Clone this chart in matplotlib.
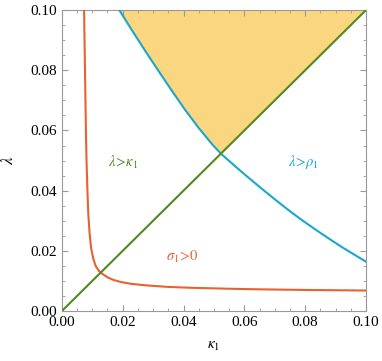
import matplotlib.pyplot as plt
from matplotlib.ticker import MultipleLocator

plt.rcParams['font.family'] = ['Liberation Serif', 'DejaVu Serif']
plt.rcParams['mathtext.fontset'] = 'stix'

# lambda > rho_1 boundary
rho_x = [0.0187, 0.0231, 0.0275, 0.0319, 0.0363, 0.0407, 0.0451, 0.0495, 0.0523,
         0.0571, 0.0615, 0.0659, 0.0703, 0.0747, 0.0791, 0.0835, 0.0879, 0.0923, 0.0967, 0.1000]
rho_y = [0.1003, 0.0932, 0.0863, 0.0796, 0.0730, 0.0666, 0.0607, 0.0553, 0.0523,
         0.0480, 0.0442, 0.0405, 0.0369, 0.0334, 0.0301, 0.0270, 0.0240, 0.0211, 0.0184, 0.0164]

# sigma_1 > 0 boundary
sig_x = [0.0073, 0.0076, 0.0079, 0.0081, 0.0084, 0.0087, 0.0091, 0.0096, 0.0103, 0.0111,
         0.0122, 0.0135, 0.0150, 0.0170, 0.0195, 0.0230, 0.0280, 0.0350, 0.0430, 0.0550,
         0.0650, 0.0800, 0.1000]
sig_y = [0.1000, 0.0800, 0.0600, 0.0500, 0.0400, 0.0320, 0.0260, 0.0210, 0.0175, 0.0150,
         0.0133, 0.0122, 0.0112, 0.0103, 0.0096, 0.0090, 0.0085, 0.0080, 0.0077, 0.0074,
         0.0072, 0.0070, 0.0068]

# lambda > kappa_1 boundary
kap_x = [0.0, 0.1]
kap_y = [0.0, 0.1]

# shaded region: above both boundaries
cross = 0.0523
fill_x = [x for x in rho_x if x <= cross] + [0.1]
fill_y = [y for x, y in zip(rho_x, rho_y) if x <= cross] + [0.1]

GREEN = '#4f8a1e'
CYAN = '#1ba6cc'
ORANGE = '#e8622f'
FILL = '#fad680'

fig = plt.figure(figsize=(3.82, 3.61), dpi=100)
ax = fig.add_axes([0.162, 0.1385, 0.796, 0.8335])

ax.fill(fill_x + [fill_x[0]], fill_y + [fill_y[0]], color=FILL, lw=0, zorder=1)
ax.plot(rho_x, rho_y, color=CYAN, lw=1.5, zorder=3)
ax.plot(sig_x, sig_y, color=ORANGE, lw=1.5, zorder=3)
ax.plot(kap_x, kap_y, color=GREEN, lw=1.5, zorder=4)

ax.text(0.020, 0.0495, r'$\lambda\!>\!\kappa_1$', color=GREEN, fontsize=10.5, ha='center', va='center')
ax.text(0.0795, 0.0495, r'$\lambda\!>\!\rho_1$', color=CYAN, fontsize=10.5, ha='center', va='center')
ax.text(0.0395, 0.0178, r'$\sigma_1\!>\!0$', color=ORANGE, fontsize=10.5, ha='center', va='center')

ax.set_xlim(0, 0.1)
ax.set_ylim(0, 0.1)
ax.xaxis.set_major_locator(MultipleLocator(0.02))
ax.yaxis.set_major_locator(MultipleLocator(0.02))
ax.xaxis.set_minor_locator(MultipleLocator(0.005))
ax.yaxis.set_minor_locator(MultipleLocator(0.005))
ax.xaxis.set_major_formatter(plt.FuncFormatter(lambda v, p: f'{v:.2f}'))
ax.yaxis.set_major_formatter(plt.FuncFormatter(lambda v, p: f'{v:.2f}'))
ax.tick_params(which='both', direction='in', top=True, right=True, color='#999999', labelsize=11)
ax.tick_params(which='major', length=4, width=0.8)
ax.tick_params(which='minor', length=2.5, width=0.6)
for s in ax.spines.values():
    s.set_color('#999999')
    s.set_linewidth(0.8)

ax.set_xlabel(r'$\kappa_1$', fontsize=11, labelpad=8)
ax.set_ylabel(r'$\lambda$', fontsize=12, labelpad=10)

fig.savefig('out.png', dpi=100)
